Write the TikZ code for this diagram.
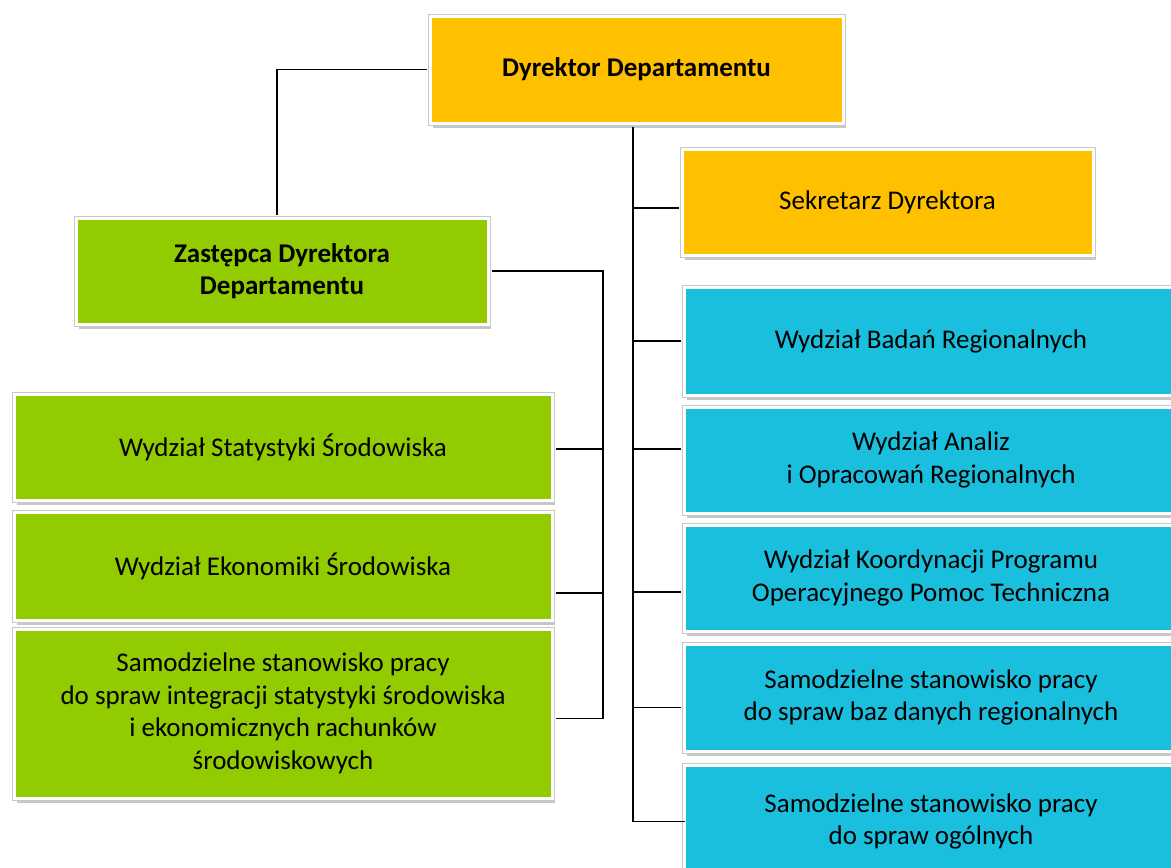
\documentclass[tikz,border=0pt]{standalone}
\usepackage{fontspec}
\setmainfont{Carlito}
\usetikzlibrary{shadows}
\definecolor{orangebox}{HTML}{FFC000}
\definecolor{greenbox}{HTML}{92CC00}
\definecolor{bluebox}{HTML}{1ABFDD}
\tikzset{
  orgbox/.style={rectangle, draw=white, line width=3pt, align=center, inner sep=0pt,
    font=\fontsize{27}{32.5}\selectfont,
    drop shadow={shadow xshift=3pt, shadow yshift=-5pt, fill=black, opacity=0.22},
    preaction={draw=black!22, line width=5pt}},
  boldtext/.style={font=\fontsize{27}{32.5}\selectfont\bfseries},
  conn/.style={draw=black, line width=1.6pt},
}
\begin{document}
\begin{tikzpicture}[x=1pt,y=-1pt]
\useasboundingbox (0,0) rectangle (1171,868);
\clip (0,0) rectangle (1171,868);
% nodes (centers, sizes = outer - 4)
\node[orgbox, fill=orangebox, minimum width=413pt, minimum height=107pt, boldtext] (dyr) at (636.5,69.5) {Dyrektor Departamentu};
\node[orgbox, fill=orangebox, minimum width=411pt, minimum height=106pt] (sek) at (887.5,202) {Sekretarz Dyrektora};
\node[orgbox, fill=greenbox, minimum width=412pt, minimum height=106pt, boldtext] (zas) at (282,271) {Zastępca Dyrektora\\Departamentu};
\node[orgbox, fill=greenbox, minimum width=538pt, minimum height=106pt] (stat) at (283,447) {Wydział Statystyki Środowiska};
\node[orgbox, fill=greenbox, minimum width=538pt, minimum height=108pt] (eko) at (283,566) {Wydział Ekonomiki Środowiska};
\node[orgbox, fill=greenbox, minimum width=538pt, minimum height=169pt] (sam) at (283,713.5) {Samodzielne stanowisko pracy\\do spraw integracji statystyki środowiska\\i ekonomicznych rachunków\\środowiskowych};
\node[orgbox, fill=bluebox, minimum width=494pt, minimum height=108pt] (bad) at (931,341) {Wydział Badań Regionalnych};
\node[orgbox, fill=bluebox, minimum width=494pt, minimum height=106pt] (ana) at (931,460) {Wydział Analiz\\i Opracowań Regionalnych};
\node[orgbox, fill=bluebox, minimum width=494pt, minimum height=106pt] (koo) at (931,578) {Wydział Koordynacji Programu\\Operacyjnego Pomoc Techniczna};
\node[orgbox, fill=bluebox, minimum width=494pt, minimum height=107pt] (baz) at (931,697.5) {Samodzielne stanowisko pracy\\do spraw baz danych regionalnych};
\node[orgbox, fill=bluebox, minimum width=494pt, minimum height=113pt] (ogo) at (931,821.5) {Samodzielne stanowisko pracy\\do spraw ogólnych};
% trunks
\coordinate (rt) at (633,0);
\coordinate (lt) at (603,0);
\coordinate (zt) at (277,0);
% connectors
\draw[conn] ([xshift=-2pt]dyr.west) -| ([yshift=2pt]zas.north -| zt);
\draw[conn] ([yshift=-2pt]dyr.south -| rt) -- (rt |- ogo.west) -- ([xshift=2pt]ogo.west);
\draw[conn] ([yshift=-6pt]sek.west -| rt) -- ([yshift=-6pt,xshift=-2pt]sek.west);
\draw[conn] (bad.west -| rt) -- ([xshift=-2pt]bad.west);
\draw[conn] ([yshift=11pt]ana.west -| rt) -- ([yshift=11pt,xshift=-2pt]ana.west);
\draw[conn] ([yshift=-14pt]koo.west -| rt) -- ([yshift=-14pt,xshift=-2pt]koo.west);
\draw[conn] ([yshift=-10pt]baz.west -| rt) -- ([yshift=-10pt,xshift=-2pt]baz.west);
\draw[conn] ([xshift=2pt]zas.east) -| ([yshift=-5pt]sam.east -| lt) -- ([yshift=-5pt,xshift=2pt]sam.east);
\draw[conn] ([yshift=-2pt]stat.east -| lt) -- ([yshift=-2pt,xshift=2pt]stat.east);
\draw[conn] ([yshift=-27pt]eko.east -| lt) -- ([yshift=-27pt,xshift=2pt]eko.east);
\end{tikzpicture}
\end{document}
